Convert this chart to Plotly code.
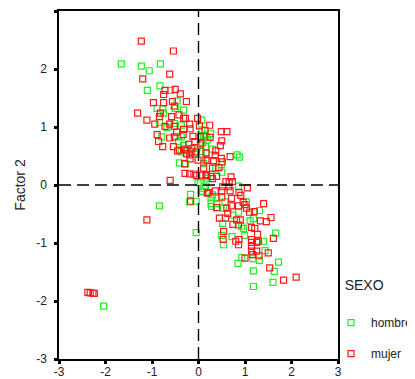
import plotly.graph_objects as go

# ---- data ----
hombre_x = [-1.66, -1.23, -1.06, -0.82, -0.83, -1.10, -0.60, -0.46, -0.50, -0.89, -0.77, -0.32,
            -0.75, 0.07, -0.84, -0.52, -0.37, -0.68, -0.79, -0.37, 0.11, 0.16, -0.43, -0.32,
            -0.03, 0.15, 0.06, -0.37, -0.09, -0.41, -0.28, -0.01,
            0.26, 0.14, 0.09, 0.17, 0.30, 0.83, 0.88, 0.11, 0.49, 0.37, 0.50, 0.19, 0.04, 0.86,
            -0.17, -0.05, -0.84, -0.05, -2.04, 0.09,
            0.06, 0.30, 0.27, 0.39, 0.57, 1.03, 0.27, 0.39, 0.28, 0.54, 1.31, 0.86, 0.74, 1.18,
            1.11, 0.52, 0.93, 0.97, 1.66, 0.50, 0.72, 0.99, 1.40, 0.54, 1.43, 0.93, 1.17, 1.31,
            1.72, 0.85, 1.18, 1.63, 1.60, 1.18,
            0.12, 0.15, 0.07, 0.20, -0.19]
hombre_y = [2.09, 2.05, 1.97, 2.09, 1.71, 1.63, 1.63, 1.45, 1.32, 1.32, 1.31, 1.29,
            1.24, 1.12, 1.08, 1.06, 1.03, 0.99, 0.83, 0.83, 0.85, 0.83, 0.75, 0.68,
            0.64, 0.66, 0.58, 0.57, 0.54, 0.38, 0.36, 0.04,
            0.89, 0.86, 0.73, 0.56, 0.62, 0.52, 0.48, 0.37, 0.35, 0.29, 0.22, 0.12, 0.04, -0.02,
            -0.16, -0.28, -0.36, -0.82, -2.09, -0.12,
            -0.11, -0.17, -0.21, -0.23, -0.29, -0.29, -0.32, -0.32, -0.37, -0.40, -0.44, -0.47, -0.52, -0.58,
            -0.62, -0.66, -0.72, -0.75, -0.83, -0.87, -0.89, -0.87, -0.97, -1.03, -1.13, -1.25, -1.27, -1.30,
            -1.33, -1.35, -1.48, -1.49, -1.68, -1.75,
            -0.06, -0.02, 0.95, 0.78, -0.29]

mujer_x = [-1.23, -0.54, -0.62, -1.20, -0.72, -0.75, -0.50, -0.39, -0.97, -0.75, -0.56, -0.26,
           -0.52, -1.31, -0.82, -0.42, -0.84, -0.58, -0.32, -0.28, -1.11, -0.02, -0.94, -0.62,
           -0.72, -0.19, -0.52, -0.32, -0.18, 0.02, 0.14, 0.24, -0.47, -0.33, -0.89, -0.52,
           -0.12, -0.62, -0.86, -0.08, 0.05, -0.77, -0.54, -0.21, -0.14, -0.30, -0.41, -0.25,
           -0.16, -0.05, 0.16, -0.45, -0.26, -0.19, -0.30, -0.18, -0.01, 0.16, -0.29, -0.19,
           -0.10, -0.04, 0.07, 0.16, -0.61,
           0.49, 0.61, 0.50, 0.47, 0.25, 0.04, 0.04, 0.37, 0.36, 0.68, 0.49, 0.51, 0.20, 0.32,
           0.44, 0.30, 0.11, 0.17, 0.27, 0.39, 0.70, 0.30, 0.59, 0.66, 0.73, 0.52, 0.65, 1.05,
           -0.17, -1.11, -2.38, -2.33, -2.27, -2.24, 0.19,
           0.22, 0.36, 0.50, 0.68, 0.87, 0.91, 0.50, 0.71, 0.96, 0.71, 0.86, 1.00, 1.40, 0.39,
           0.61, 1.03, 1.10, 1.20, 0.63, 1.56, 1.46, 1.33, 0.45, 0.58, 0.82, 0.90, 0.74, 0.86,
           1.14, 1.21, 0.54, 1.27, 1.61, 0.53, 0.87, 0.80, 1.14, 1.14, 1.25, 1.29, 0.86, 1.14,
           1.14, 1.25, 1.50, 1.16, 1.00, 1.30, 1.53, 1.83, 2.10]
mujer_y = [2.48, 2.31, 1.91, 1.83, 1.63, 1.56, 1.65, 1.57, 1.42, 1.42, 1.44, 1.44,
           1.36, 1.24, 1.24, 1.21, 1.18, 1.18, 1.15, 1.15, 1.12, 1.15, 1.05, 1.05,
           1.01, 1.05, 1.01, 0.96, 0.97, 1.02, 0.94, 1.03, 0.91, 0.87, 0.87, 0.83,
           0.84, 0.81, 0.75, 0.75, 0.72, 0.66, 0.66, 0.70, 0.63, 0.62, 0.60, 0.60,
           0.57, 0.57, 0.55, 0.59, 0.54, 0.52, 0.37, 0.45, 0.43, 0.43, 0.20, 0.19,
           0.19, 0.16, 0.17, 0.16, 0.08,
           0.92, 0.92, 0.76, 0.68, 0.82, 0.83, 0.69, 0.59, 0.51, 0.49, 0.46, 0.40, 0.42, 0.42,
           0.30, 0.29, 0.29, 0.18, 0.15, 0.15, 0.14, 0.11, 0.06, 0.05, 0.06, -0.03, -0.03, -0.05,
           -0.28, -0.60, -1.85, -1.86, -1.87, -1.87, -0.14,
           -0.13, -0.10, -0.10, -0.10, -0.13, -0.18, -0.21, -0.23, -0.30, -0.36, -0.36, -0.34, -0.32, -0.39,
           -0.40, -0.40, -0.47, -0.46, -0.49, -0.56, -0.63, -0.62, -0.57, -0.57, -0.60, -0.60, -0.68, -0.69,
           -0.73, -0.75, -0.80, -0.85, -0.92, -0.94, -0.94, -0.97, -0.94, -0.99, -0.99, -0.97, -1.03, -1.06,
           -1.14, -1.14, -1.17, -1.20, -1.26, -1.22, -1.43, -1.64, -1.59]

tick_vals = [-3, -2, -1, 0, 1, 2, 3]
tick_text = ["-3", "-2", "-1", "0", "1", "2", "3"]

FONT = "Liberation Sans, Arial, sans-serif"

fig = go.Figure()
fig.add_trace(go.Scatter(
    x=hombre_x, y=hombre_y, mode="markers", name="hombre", legendgroup="h",
    marker=dict(symbol="square-open", size=6, color="#22ee22", line=dict(width=1.2)),
))
fig.add_trace(go.Scatter(
    x=mujer_x, y=mujer_y, mode="markers", name="mujer", legendgroup="m",
    marker=dict(symbol="square-open", size=6, color="#ff1a1a", line=dict(width=1.2)),
))

fig.add_hline(y=0, line=dict(color="black", width=1.4, dash="12px,6px"))
fig.add_vline(x=0, line=dict(color="black", width=1.4, dash="12px,6px"))

axis_common = dict(
    range=[-3, 3], tickvals=tick_vals, ticktext=tick_text,
    showgrid=False, zeroline=False,
    showline=True, linecolor="black", linewidth=1.5, mirror=True,
    ticks="outside", ticklen=3, tickwidth=3, tickcolor="black",
    tickfont=dict(family=FONT, size=12, color="#222222"),
)

# the page body adds an 8px offset, so the figure is 8px smaller than the window
fig.update_layout(
    width=407, height=371,
    margin=dict(l=51, r=77, t=3, b=20, autoexpand=False),
    paper_bgcolor="white", plot_bgcolor="white",
    font=dict(family=FONT, color="#222222"),
    xaxis=dict(**axis_common, ticklabelstandoff=-2),
    yaxis=dict(**axis_common, ticklabelstandoff=5,
               title=dict(text="Factor 2", font=dict(family=FONT, size=14, color="#222222"),
                          standoff=7)),
    legend=dict(
        x=0.975, y=0.251, xanchor="left", yanchor="top",
        title=dict(text="&nbsp;&nbsp;&nbsp;SEXO<br>&nbsp;", font=dict(family=FONT, size=14, color="#222222")),
        font=dict(family=FONT, size=12, color="#222222"),
        tracegroupgap=12, itemwidth=30,
        bgcolor="rgba(0,0,0,0)",
    ),
    showlegend=True,
)

fig.write_html("out.html")
